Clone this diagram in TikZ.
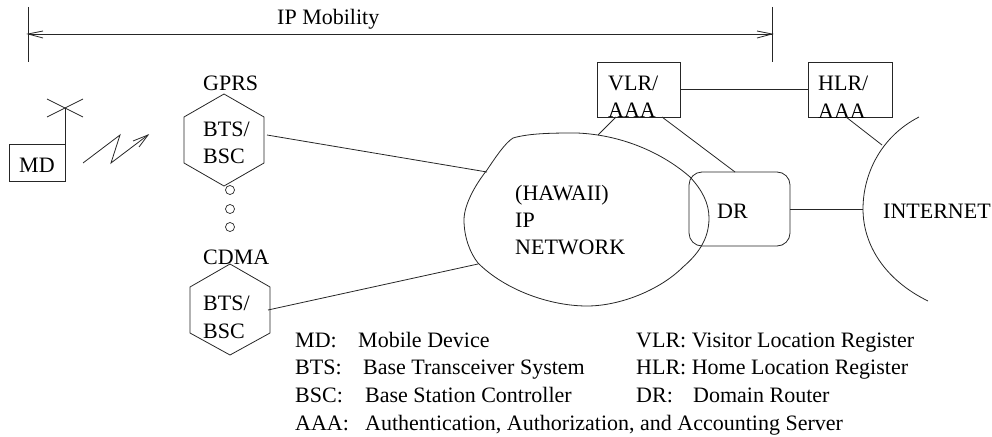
\documentclass[tikz,border=0pt]{standalone}
\usepackage{fontspec}
\setmainfont{Liberation Serif}
\begin{document}
\begin{tikzpicture}[x=1pt,y=-1pt,
  lbl/.style={inner sep=0pt,anchor=base west,font=\fontsize{22}{24}\selectfont},
  ln/.style={draw=black!85,line width=0.8pt},
  hexa/.style={ln,fill=none},
  dotc/.style={circle,draw=black!85,line width=0.7pt,minimum size=9pt,inner sep=0pt}]
\useasboundingbox (0,0) rectangle (992,436);
% IP mobility
\coordinate (ml) at (28,34); \coordinate (mr) at (772,34);
\coordinate (mlt) at (28,7); \coordinate (mlb) at (28,62);
\coordinate (mrt) at (772,7); \coordinate (mrb) at (772,62);
\draw[ln] (mlt)--(mlb); \draw[ln] (mrt)--(mrb);
\draw[ln] (ml)--(mr);
\draw[ln] (43,31)--(ml)--(43,38);
\draw[ln] (757,31)--(mr)--(757,38);
\node[lbl] (ipm) at (277,25) {IP Mobility};
% MD
\node[lbl] (mdt) at (19,172) {MD};
\draw[ln] (9.5,144) rectangle (65,181);
\coordinate (ant) at (65,108);\coordinate (mdc) at (65,144);
\draw[ln] (mdc)--(ant);
\draw[ln] (47,99)--(83,117); \draw[ln] (47,117)--(83,99);
% zigzag
\coordinate (za) at (83,163);\coordinate (zb) at (120,135);\coordinate (zc) at (111,163);\coordinate (zd) at (148,135);
\draw[ln] (za)--(zb)--(zc)--(zd);
\draw[ln] (133,141)--(zd)--(139,147);
% GPRS hex
\node[lbl] (gp) at (203,90) {GPRS};
\draw[hexa] (224,94)--(264,117)--(264,163)--(224,186)--(184,163)--(184,117)--cycle;
\node[lbl] (g1) at (203,136) {BTS/};
\node[lbl] (g2) at (203,163) {BSC};
\coordinate (gpr) at (267,135);
\node[dotc] (d1) at (230,190) {};
\node[dotc] (d2) at (230,209) {};
\node[dotc] (d3) at (230,227) {};
% CDMA hex
\node[lbl] (cd) at (203,264) {CDMA};
\draw[hexa] (230,264)--(270,287)--(270,333)--(230,355)--(190,333)--(190,287)--cycle;
\node[lbl] (c1) at (203,310) {BTS/};
\node[lbl] (c2) at (203,338) {BSC};
\coordinate (cdr) at (268,310);
% network
\draw[ln] (513,138) .. controls (530,133) and (555,133) .. (577,133)
  .. controls (625,135) and (665,155) .. (690,177)
  .. controls (702,190) and (709,203) .. (709,218)
  .. controls (709,240) and (697,255) .. (683,267)
  .. controls (660,290) and (620,306) .. (587,306)
  .. controls (550,306) and (505,290) .. (478,263)
  .. controls (470,253) and (464,237) .. (464,220)
  .. controls (464,205) and (475,185) .. (487,170)
  .. controls (495,158) and (505,143) .. (513,138) -- cycle;
\coordinate (ngt) at (487,172);\coordinate (ngb) at (478,264);
\draw[ln] (gpr)--(ngt);
\draw[ln] (cdr)--(ngb);
\node[lbl] (n1) at (515,200) {(HAWAII)};
\node[lbl] (n2) at (515,227) {IP};
\node[lbl] (n3) at (515,254) {NETWORK};
% VLR HLR
\draw[ln] (597,62) rectangle (680,117);
\node[lbl] (v1) at (608,90) {VLR/};
\node[lbl] (v2) at (608,117) {AAA};
\draw[ln] (808,62) rectangle (892,117);
\node[lbl] (h1) at (818,90) {HLR/};
\node[lbl] (h2) at (818,118) {AAA};
\draw[ln] (680,89)--(808,89);
\coordinate (va) at (616,117); \coordinate (vb) at (662,117);
\draw[ln] (va)--(598,135);
% DR
\draw[ln,rounded corners=13pt] (689,172) rectangle (790,246);
\node[lbl] (dr) at (717,218) {DR};
\draw[ln] (vb)--(735,172);
\draw[ln] (790,209)--(863,209);
% INTERNET
\draw[ln] (919,117) .. controls (880,137) and (863,175) .. (863,209) .. controls (863,245) and (885,280) .. (928,301);
\node[lbl] (inet) at (883,218) {INTERNET};
\draw[ln] (846,117)--(882,145);
% legend
\node[lbl] at (295,347) {MD:};
\node[lbl] at (358,347) {Mobile Device};
\node[lbl] at (295,374) {BTS:};
\node[lbl] at (363,374) {Base Transceiver System};
\node[lbl] at (295,402) {BSC:};
\node[lbl] at (365,402) {Base Station Controller};
\node[lbl] at (295,430) {AAA:};
\node[lbl] at (365,430) {Authentication, Authorization, and Accounting Server};
\node[lbl] at (636,347) {VLR: Visitor Location Register};
\node[lbl] at (636,374) {HLR: Home Location Register};
\node[lbl] at (636,402) {DR:};
\node[lbl] at (693,402) {Domain Router};
\end{tikzpicture}
\end{document}
